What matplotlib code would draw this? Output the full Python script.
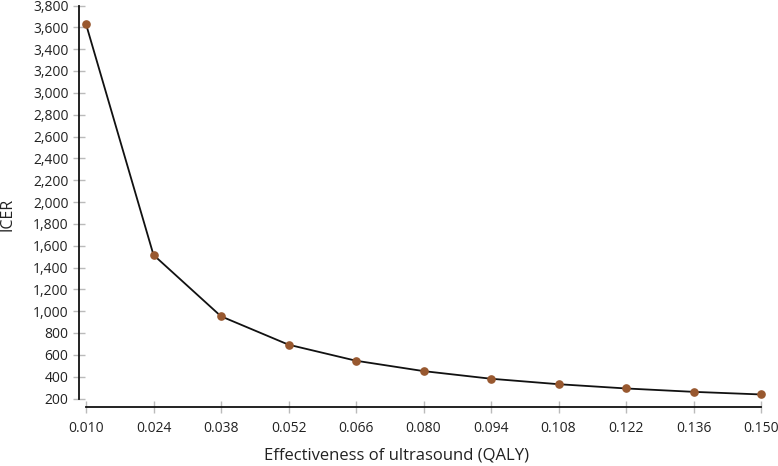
import numpy as np
import matplotlib
matplotlib.use("Agg")
import matplotlib.pyplot as plt
from matplotlib.ticker import FuncFormatter

plt.rcParams['font.family'] = ['Open Sans', 'DejaVu Sans']

effectiveness = [0.010, 0.024, 0.038, 0.052, 0.066, 0.080, 0.094, 0.108, 0.122, 0.136, 0.150]
icer = [3630, 1515, 953, 693, 546, 451, 381, 331, 292, 261, 237]
y_ticks = list(range(200, 3801, 200))

W, H = 778, 466
fig = plt.figure(figsize=(W / 100, H / 100), dpi=100)

# pixel layout
left_px, right_px = 79, 761
top_px, bottom_px = 5.5, 406.7
ax = fig.add_axes([left_px / W, 1 - bottom_px / H, (right_px - left_px) / W, (bottom_px - top_px) / H])

x0px, x1px = 86, 761
dx_per_px = (0.150 - 0.010) / (x1px - x0px)
ax.set_xlim(0.010 - (x0px - left_px) * dx_per_px, 0.150)
y200, y3800 = 398.5, 5.5
dy_per_px = 3600 / (y200 - y3800)
ax.set_ylim(200 - (bottom_px - y200) * dy_per_px, 3800)

ax.plot(effectiveness, icer, color='#111111', lw=1.3, zorder=2, clip_on=False)
ax.plot(effectiveness, icer, 'o', color='#98582f', ms=5.2, zorder=3, clip_on=False)

for s in ['top', 'right']:
    ax.spines[s].set_visible(False)
ax.spines['left'].set_bounds(200, 3800)
ax.spines['bottom'].set_bounds(0.010, 0.150)
for s in ['left', 'bottom']:
    ax.spines[s].set_linewidth(1.3)
    ax.spines[s].set_color('#111111')

ax.set_xticks(effectiveness)
ax.xaxis.set_major_formatter(FuncFormatter(lambda v, p: f"{v:.3f}"))
ax.set_yticks(y_ticks)
ax.yaxis.set_major_formatter(FuncFormatter(lambda v, p: f"{int(v):,}"))
ax.tick_params(axis='y', direction='inout', length=9, width=1, color='#bbbbbb',
               labelsize=10, labelcolor='#222222', pad=3)
ax.tick_params(axis='x', direction='inout', length=9, width=1, color='#bbbbbb',
               labelsize=10, labelcolor='#222222', pad=6)

fig.text(396 / W, 1 - 455 / H, 'Effectiveness of ultrasound (QALY)', fontsize=12,
         color='#222222', ha='center', va='center')
fig.text(8 / W, 1 - 214 / H, 'ICER', fontsize=11.5, color='#222222',
         ha='center', va='center', rotation=90)

fig.savefig('out.png', dpi=100)
